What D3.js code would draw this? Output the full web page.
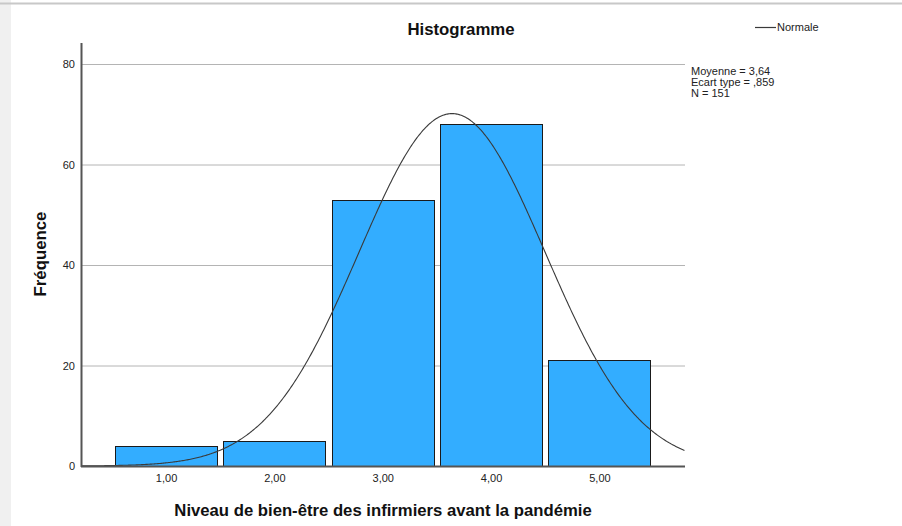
<!DOCTYPE html>
<html><head><meta charset="utf-8">
<script src="https://cdn.jsdelivr.net/npm/d3@7"></script>
<style>body{margin:0;background:#fff;}svg{display:block;font-family:"Liberation Sans",Arial,sans-serif;}</style>
</head><body>
<svg id="c" width="902" height="526"></svg>
<script>
const categories = [1, 2, 3, 4, 5];
const categoryLabels = ["1,00", "2,00", "3,00", "4,00", "5,00"];
const frequencies = [4, 5, 53, 68, 21];
const yTicks = [0, 20, 40, 60, 80];
const stats = { mean: 3.64, sd: 0.859, n: 151 };
const statLines = ["Moyenne = 3,64", "Ecart type = ,859", "N = 151"];

const svg = d3.select("#c");
svg.append("rect").attr("x",0).attr("y",0).attr("width",11).attr("height",526).attr("fill","#f0f0f0");
svg.append("line").attr("x1",0).attr("x2",902).attr("y1",3.5).attr("y2",3.5).attr("stroke","#c8c8c8").attr("stroke-width",2);

const x = d3.scaleLinear().domain([0.215, 5.79]).range([81, 685]);
const y = d3.scaleLinear().domain([0, 80]).range([466, 64]);

// gridlines
svg.append("g").selectAll("line").data(yTicks.filter(d=>d>0)).join("line")
  .attr("x1",81).attr("x2",685).attr("y1",d=>y(d)+0.5).attr("y2",d=>y(d)+0.5)
  .attr("stroke","#b4b4b4").attr("stroke-width",1);

// bars
const hw = 0.47;
svg.append("g").selectAll("rect").data(categories).join("rect")
  .attr("x",d=>Math.round(x(d-hw))+0.5)
  .attr("width",d=>Math.round(x(d+hw))-Math.round(x(d-hw)))
  .attr("y",(d,i)=>Math.round(y(frequencies[i]))+0.5)
  .attr("height",(d,i)=>466-Math.round(y(frequencies[i])))
  .attr("fill","#33adff").attr("stroke","#1a1a1a").attr("stroke-width",1);

// normal curve
const pdf = v => stats.n / (stats.sd*Math.sqrt(2*Math.PI)) * Math.exp(-0.5*Math.pow((v-stats.mean)/stats.sd,2));
const xs = d3.range(0.215, 5.7901, 0.01);
svg.append("path").datum(xs)
  .attr("d", d3.line().x(d=>x(d)).y(d=>y(pdf(d))).curve(d3.curveLinear))
  .attr("fill","none").attr("stroke","#3a3a3a").attr("stroke-width",1.1);

// axes
const yAxis = d3.axisLeft(y).tickValues(yTicks).tickSize(0).tickPadding(6);
const ga = svg.append("g").attr("transform","translate(81,0)").call(yAxis);
ga.select(".domain").remove();
ga.selectAll("text").attr("font-size","11px").attr("fill","#222").attr("font-family","Liberation Sans, Arial, sans-serif");
svg.append("line").attr("x1",81.5).attr("x2",81.5).attr("y1",43).attr("y2",467).attr("stroke","#555").attr("stroke-width",2);

const xAxis = d3.axisBottom(x).tickValues(categories).tickFormat((d,i)=>categoryLabels[i]).tickSize(0).tickPadding(8);
const gx = svg.append("g").attr("transform","translate(0,466)").call(xAxis);
gx.select(".domain").remove();
gx.selectAll("text").attr("font-size","11px").attr("fill","#222").attr("font-family","Liberation Sans, Arial, sans-serif");
svg.append("line").attr("x1",81).attr("x2",685).attr("y1",466.5).attr("y2",466.5).attr("stroke","#555").attr("stroke-width",2);

// titles
svg.append("text").attr("x",461).attr("y",35).attr("text-anchor","middle").attr("font-size","16.8px").attr("font-weight","bold").attr("fill","#111").text("Histogramme");
svg.append("text").attr("x",383).attr("y",516).attr("text-anchor","middle").attr("font-size","16.7px").attr("font-weight","bold").attr("fill","#111").text("Niveau de bien-être des infirmiers avant la pandémie");
svg.append("text").attr("transform","translate(46,254) rotate(-90)").attr("text-anchor","middle").attr("font-size","16.8px").attr("font-weight","bold").attr("fill","#111").text("Fréquence");

// legend
svg.append("line").attr("x1",755).attr("x2",776).attr("y1",27.5).attr("y2",27.5).attr("stroke","#3a3a3a").attr("stroke-width",1.2);
svg.append("text").attr("x",777).attr("y",31).attr("font-size","11px").attr("fill","#222").text("Normale");

svg.append("g").selectAll("text").data(statLines).join("text")
  .attr("x",691).attr("y",(d,i)=>75+i*11).attr("font-size","11px").attr("fill","#222").text(d=>d);
</script>
</body></html>
